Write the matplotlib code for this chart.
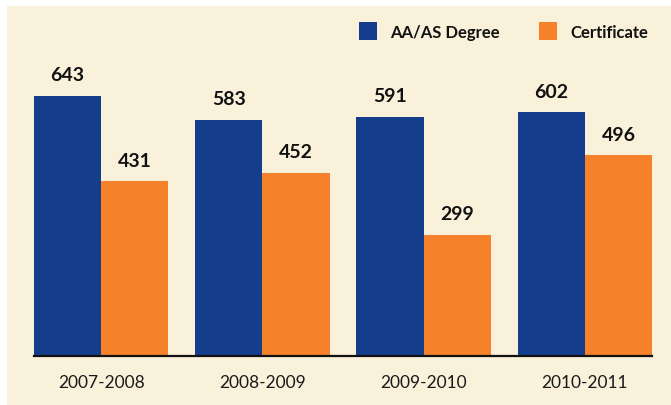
import matplotlib
matplotlib.use("Agg")
import matplotlib.pyplot as plt
from matplotlib.patches import Rectangle
import numpy as np

years = ['2007-2008', '2008-2009', '2009-2010', '2010-2011']
degree = [643, 583, 591, 602]
certificate = [431, 452, 299, 496]
series_names = ['AA/AS Degree', 'Certificate']

blue = '#143E8B'
orange = '#F5822A'
panel = '#FAF1DB'

plt.rcParams['font.family'] = ['Lato', 'DejaVu Sans']

fig = plt.figure(figsize=(6.71, 4.06), dpi=100)
fig.patch.set_facecolor('white')
# cream panel behind everything
fig.add_artist(Rectangle((7 / 671, 0), 1 - 7 / 671, 1 - 7 / 406,
                         transform=fig.transFigure, facecolor=panel,
                         edgecolor='none', zorder=-10))

ax = fig.add_axes([34 / 671, 49.4 / 406, 618 / 671, 349.6 / 406])
ax.set_facecolor('none')

x = np.arange(len(years))
w = 0.417
b1 = ax.bar(x - w / 2, degree, w, color=blue)
b2 = ax.bar(x + w / 2, certificate, w, color=orange)

for bars in (b1, b2):
    for r in bars:
        ax.annotate('{:d}'.format(int(r.get_height())),
                    (r.get_x() + r.get_width() / 2, r.get_height()),
                    xytext=(0, 9), textcoords='offset points',
                    ha='center', va='bottom', fontsize=14, fontweight='bold',
                    color='#111111')

ax.set_xlim(-w, len(years) - 1 + w)
ax.set_ylim(0, 864.5)
ax.set_xticks(x)
ax.set_xticklabels(years, fontsize=12.5, color='#1a1a1a')
ax.tick_params(axis='x', length=0, pad=13)
ax.set_yticks([])
for s in ['left', 'right', 'top']:
    ax.spines[s].set_visible(False)
ax.spines['bottom'].set_linewidth(1.6)
ax.spines['bottom'].set_color('#111111')

# legend, drawn by hand at top right
for i, (name, col) in enumerate(zip(series_names, [blue, orange])):
    sx = [359, 539][i]
    fig.add_artist(Rectangle((sx / 671, 1 - 41 / 406), 18 / 671, 18 / 406,
                             transform=fig.transFigure, facecolor=col,
                             edgecolor='none'))
    fig.text((sx + 31) / 671, 1 - 33 / 406, name, fontsize=12,
             fontweight='bold', va='center', ha='left', color='#111111')

fig.savefig('out.png', dpi=100, facecolor=fig.get_facecolor())
